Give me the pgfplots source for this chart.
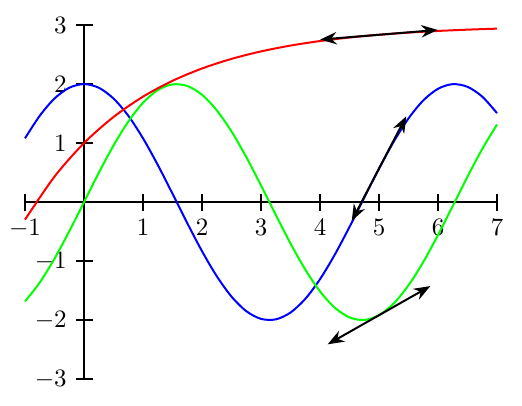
\documentclass[border=0pt]{standalone}
\usepackage{pgfplots}
\pgfplotsset{compat=1.18}
\usetikzlibrary{arrows.meta}
\begin{document}
\begin{tikzpicture}
\begin{axis}[
  x=0.83cm, y=0.83cm,
  axis lines=middle,
  axis line style={-, thick},
  xmin=-1, xmax=7, ymin=-3, ymax=3,
  xtick={-1,1,2,3,4,5,6,7},
  ytick={-3,-2,-1,1,2,3},
  tick align=center,
  major tick length=6.8pt,
  tick style={thick, black},
  clip=false,
]
\path (axis cs:-1.424,-3.44) rectangle (axis cs:7.424,3.425);
\addplot[blue, thick, smooth] coordinates {
(-1,1.0806) (-0.75,1.4634) (-0.5,1.7552) (-0.25,1.9378) (0,2) (0.25,1.9378) (0.5,1.7552) (0.75,1.4634) (1,1.0806) (1.25,0.6306) (1.5,0.1415) (1.75,-0.3564) (2,-0.8323) (2.25,-1.2563) (2.5,-1.6023) (2.75,-1.8486) (3,-1.9800) (3.25,-1.9883) (3.5,-1.8729) (3.75,-1.6411) (4,-1.3073) (4.25,-0.8922) (4.5,-0.4216) (4.75,0.0752) (5,0.5673) (5.25,1.0243) (5.5,1.4174) (5.75,1.7224) (6,1.9203) (6.25,1.9989) (6.5,1.9532) (6.75,1.7872) (7,1.5078)
};
\addplot[green, thick, smooth] coordinates {
(-1,-1.6829) (-0.75,-1.3633) (-0.5,-0.9589) (-0.25,-0.4948) (0,0) (0.25,0.4948) (0.5,0.9589) (0.75,1.3633) (1,1.6829) (1.25,1.8980) (1.5,1.9950) (1.75,1.9680) (2,1.8186) (2.25,1.5561) (2.5,1.1969) (2.75,0.7633) (3,0.2822) (3.25,-0.2164) (3.5,-0.7016) (3.75,-1.1432) (4,-1.5136) (4.25,-1.7900) (4.5,-1.9551) (4.75,-1.9986) (5,-1.9178) (5.25,-1.7178) (5.5,-1.4110) (5.75,-1.0166) (6,-0.5588) (6.25,-0.0663) (6.5,0.4302) (6.75,0.8999) (7,1.3140)
};
\addplot[red, thick, smooth] coordinates {
(-1,-0.2974) (-0.5,0.4320) (0,1) (0.5,1.4424) (1,1.7869) (1.5,2.0553) (2,2.2642) (2.5,2.4270) (3,2.5537) (3.5,2.6525) (4,2.7293) (4.5,2.7892) (5,2.8358) (5.5,2.8722) (6,2.9004) (6.5,2.9224) (7,2.9396)
};
\addplot[black, thick, {Stealth}-{Stealth}] coordinates {(4.0034,2.7542) (5.9966,2.9174)};
\addplot[black, thick, {Stealth}-{Stealth}] coordinates {(4.5377,-0.3194) (5.4623,1.4540)};
\addplot[black, thick, {Stealth}-{Stealth}] coordinates {(4.1302,-2.4112) (5.8698,-1.4244)};
\end{axis}
\end{tikzpicture}
\end{document}
